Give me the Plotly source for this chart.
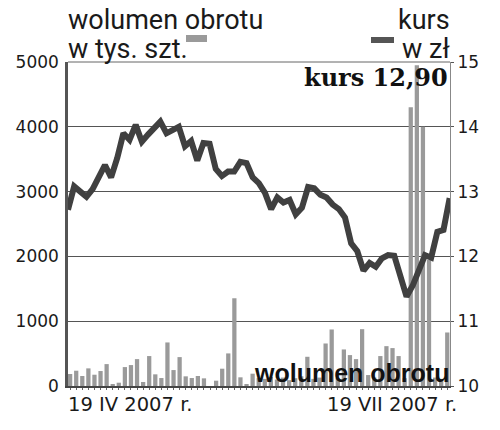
import plotly.graph_objects as go

# daily turnover (thousand shares) and price (zł), 19 IV 2007 .. 19 VII 2007
volume = [185, 236, 154, 272, 174, 231, 338, 26, 51, 292,
          323, 415, 62, 462, 180, 123, 672, 246, 446, 149,
          123, 154, 118, 0, 82, 267, 503, 1354, 134, 20,
          190, 120, 110, 140, 100, 130, 90, 120, 150, 451,
          110, 130, 656, 872, 120, 564, 477, 415, 877, 169,
          130, 462, 615, 585, 462, 120, 4300, 4950, 4000, 1950,
          130, 110, 826]
price = [12.72, 13.08, 13.00, 12.92, 13.04, 13.22, 13.41, 13.22, 13.52, 13.90,
         13.80, 14.03, 13.77, 13.88, 13.98, 14.08, 13.90, 13.96, 14.00, 13.70,
         13.78, 13.48, 13.75, 13.74, 13.35, 13.24, 13.31, 13.31, 13.46, 13.44,
         13.22, 13.13, 12.98, 12.73, 12.91, 12.83, 12.87, 12.65, 12.75, 13.07,
         13.05, 12.95, 12.91, 12.80, 12.73, 12.60, 12.20, 12.08, 11.78, 11.90,
         11.84, 11.97, 12.02, 12.01, 11.72, 11.38, 11.55, 11.80, 12.02, 11.98,
         12.38, 12.41, 12.90]
days = list(range(len(volume)))
date_labels = ["19 IV 2007 r.", "19 VII 2007 r."]
y_ticks = [0, 1000, 2000, 3000, 4000, 5000]
y2_ticks = [10, 11, 12, 13, 14, 15]

fig = go.Figure()
fig.add_trace(go.Bar(x=days, y=volume, marker=dict(color="#9a9a9a", line=dict(width=0)),
                     yaxis="y", xaxis="x"))
fig.add_trace(go.Scatter(x=[d - 0.35 + d * 0.012 for d in days], y=price, mode="lines",
                         line=dict(color="#404040", width=6), yaxis="y2", xaxis="x"))

tickfont = dict(family="DejaVu Sans", size=17, color="#1a1a1a")
fig.update_layout(
    width=500, height=430,
    margin=dict(l=68, r=50, t=62, b=44, autoexpand=False),
    paper_bgcolor="white", plot_bgcolor="white",
    showlegend=False, bargap=0.3,
    xaxis=dict(range=[-0.35, 62.45], showgrid=False, zeroline=False,
               showticklabels=False, showline=True, linecolor="#444", linewidth=1.5,
               ticks="outside", tickvals=days, ticklen=2, tickcolor="#666", tickwidth=1,
               fixedrange=True, automargin=False),
    yaxis=dict(range=[0, 5000], tickvals=y_ticks, ticktext=[str(v) for v in y_ticks],
               showgrid=True, gridcolor="#555", gridwidth=1, zeroline=False,
               showline=True, linecolor="#555", linewidth=2.5, ticks="", tickfont=tickfont,
               ticklabelstandoff=3, automargin=False),
    yaxis2=dict(range=[10, 15], overlaying="y", side="right", tickvals=y2_ticks,
                showgrid=False, zeroline=False, showline=True, linecolor="#888",
                linewidth=1, ticks="outside", ticklen=3, tickcolor="#555",
                tickfont=tickfont, automargin=False),
)

annots = [
    dict(text="wolumen obrotu", x=67, y=3, xanchor="left", yanchor="top",
         font=dict(family="Roboto", size=27, color="#1a1a1a")),
    dict(text="w tys. szt.", x=67, y=32, xanchor="left", yanchor="top",
         font=dict(family="Roboto", size=27, color="#1a1a1a")),
    dict(text="kurs", x=451, y=3, xanchor="right", yanchor="top",
         font=dict(family="Roboto", size=27, color="#1a1a1a")),
    dict(text="w zł", x=451, y=32, xanchor="right", yanchor="top",
         font=dict(family="Roboto", size=27, color="#1a1a1a")),
    dict(text="kurs 12,90", x=449, y=62, xanchor="right", yanchor="top",
         font=dict(family="DejaVu Serif", size=24, color="#111", weight="bold")),
]
for a in annots:
    fig.add_annotation(xref="paper", yref="paper", showarrow=False,
                       x=(a["x"] - 68) / 382, y=1 - (a["y"] - 62) / 324,
                       xanchor=a["xanchor"], yanchor=a["yanchor"], text=a["text"],
                       font=a["font"], borderpad=0)

fig.add_annotation(xref="paper", yref="paper", showarrow=False, x=1.0, y=-0.005,
                   xanchor="right", yanchor="bottom", text="wolumen obrotu", borderpad=0,
                   font=dict(family="Liberation Sans", size=25, color="#111", weight="bold"))
fig.add_annotation(xref="paper", yref="paper", showarrow=False, x=-0.003, y=-0.02,
                   xanchor="left", yanchor="top", text=date_labels[0], borderpad=0,
                   font=dict(family="DejaVu Sans", size=19.5, color="#1a1a1a"))
fig.add_annotation(xref="paper", yref="paper", showarrow=False, x=(458 - 68) / 382, y=-0.02,
                   xanchor="right", yanchor="top", text=date_labels[1], borderpad=0,
                   font=dict(family="DejaVu Sans", size=19.5, color="#1a1a1a"))

# legend swatches
fig.add_shape(type="rect", xref="paper", yref="paper",
              x0=(186 - 68) / 382, x1=(207 - 68) / 382,
              y0=1 - (42 - 62) / 324, y1=1 - (35 - 62) / 324,
              fillcolor="#9a9a9a", line=dict(width=0))
fig.add_shape(type="line", xref="paper", yref="paper",
              x0=(371 - 68) / 382, x1=(394 - 68) / 382,
              y0=1 - (40 - 62) / 324, y1=1 - (40 - 62) / 324,
              line=dict(color="#555", width=6))
# top frame line
fig.add_shape(type="line", xref="paper", yref="paper", x0=0, x1=1, y0=1, y1=1,
              line=dict(color="#666", width=1))

fig.write_html("out.html", config={"displayModeBar": False},
               post_script="document.body.style.margin='0';document.body.style.overflow='hidden';")
